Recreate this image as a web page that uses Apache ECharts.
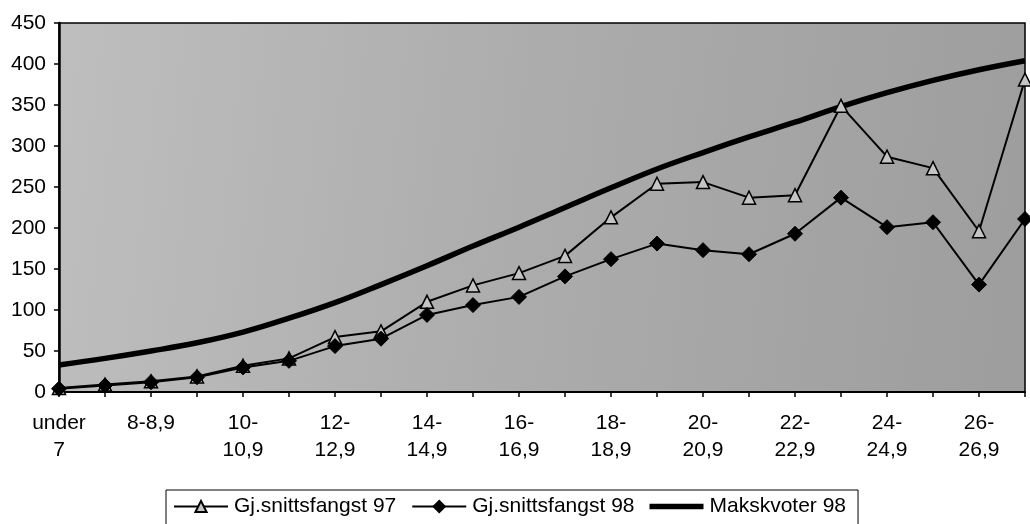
<!DOCTYPE html>
<html>
<head>
<meta charset="utf-8">
<script src="https://cdn.jsdelivr.net/npm/echarts@6/dist/echarts.min.js"></script>
<style>
html,body{margin:0;padding:0;background:#fff;}
#c{width:1030px;height:524px;}
</style>
</head>
<body>
<div id="c"></div>
<script>
// Length classes (cm)
const categories = ["under 7","7-7,9","8-8,9","9-9,9","10-10,9","11-11,9","12-12,9","13-13,9","14-14,9","15-15,9","16-16,9","17-17,9","18-18,9","19-19,9","20-20,9","21-21,9","22-22,9","23-23,9","24-24,9","25-25,9","26-26,9","27-27,9"];
const snitt97 = [5, 9, 13, 19, 32, 41, 67, 74, 110, 130, 145, 166, 213, 254, 256, 237, 240, 349, 287, 273, 196, 381];
const snitt98 = [4, 8, 12, 18, 30, 38, 56, 65, 94, 106, 116, 141, 162, 181, 173, 168, 193, 237, 201, 207, 131, 211];
const makskvoter98 = [33, 41, 50, 60, 73, 90, 109, 131, 154, 178, 201, 225, 249, 272, 292, 311, 329, 348, 365, 380, 393, 404];
const seriesNames = ["Gj.snittsfangst 97", "Gj.snittsfangst 98", "Makskvoter 98"];
const yTicks = {min: 0, max: 450, interval: 50};

const FONT = "'Liberation Sans', Arial, sans-serif";
const chart = echarts.init(document.getElementById('c'), null, {renderer: 'canvas'});

function wrapLabel(v) {
  if (v.indexOf('under') === 0) return v.replace(' ', '\n');
  if (v.length > 5) { const i = v.indexOf('-'); return v.slice(0, i + 1) + '\n' + v.slice(i + 1); }
  return v;
}

chart.setOption({
  backgroundColor: '#ffffff',
  animation: false,
  grid: {
    left: 59, right: 5, top: 23, bottom: 132,
    show: true,
    borderColor: '#000', borderWidth: 1.5,
    backgroundColor: {
      type: 'linear', x: 0, y: 0, x2: 1, y2: 0.3,
      colorStops: [{offset: 0, color: '#bebebe'}, {offset: 0.5, color: '#acacac'}, {offset: 1, color: '#9e9e9e'}]
    }
  },
  legend: {
    data: [
      {name: seriesNames[0]},
      {name: seriesNames[1]},
      {name: seriesNames[2], icon: 'path://M0,0H100V10H0Z', itemStyle: {color: '#000'}}
    ],
    left: 166, top: 490,
    padding: [6, 12, 8, 7],
    itemGap: 15,
    itemWidth: 54, itemHeight: 14,
    borderColor: '#000', borderWidth: 1,
    textStyle: {fontFamily: FONT, fontSize: 21, color: '#000', padding: [0, 0, 0, 1]}
  },
  xAxis: {
    type: 'category',
    data: categories,
    boundaryGap: false,
    axisLine: {lineStyle: {color: '#000', width: 2}},
    axisTick: {show: true, interval: 0, length: 5, lineStyle: {color: '#000', width: 1.5}},
    axisLabel: {
      interval: 1, margin: 18, color: '#000', fontFamily: FONT, fontSize: 21, lineHeight: 27,
      formatter: wrapLabel
    },
    splitLine: {show: false}
  },
  yAxis: {
    type: 'value',
    min: yTicks.min, max: yTicks.max, interval: yTicks.interval,
    axisLine: {show: true, lineStyle: {color: '#000', width: 2.5}},
    axisTick: {show: true, length: 5, lineStyle: {color: '#000', width: 1.5}},
    axisLabel: {margin: 13, color: '#000', fontFamily: FONT, fontSize: 21},
    splitLine: {show: false}
  },
  series: [
    {
      name: seriesNames[0], type: 'line', data: snitt97,
      symbol: 'triangle', symbolSize: 13, showAllSymbol: true,
      lineStyle: {color: '#000', width: 2},
      itemStyle: {color: '#c4c4c4', borderColor: '#000', borderWidth: 1.5},
      z: 3
    },
    {
      name: seriesNames[1], type: 'line', data: snitt98,
      symbol: 'diamond', symbolSize: 15, showAllSymbol: true,
      lineStyle: {color: '#000', width: 2},
      itemStyle: {color: '#000', borderColor: '#000', borderWidth: 1},
      z: 4
    },
    {
      name: seriesNames[2], type: 'line', data: makskvoter98,
      symbol: 'none', smooth: 0.4,
      lineStyle: {color: '#000', width: 5.5},
      itemStyle: {color: '#000'},
      z: 2
    }
  ]
});
</script>
</body>
</html>
